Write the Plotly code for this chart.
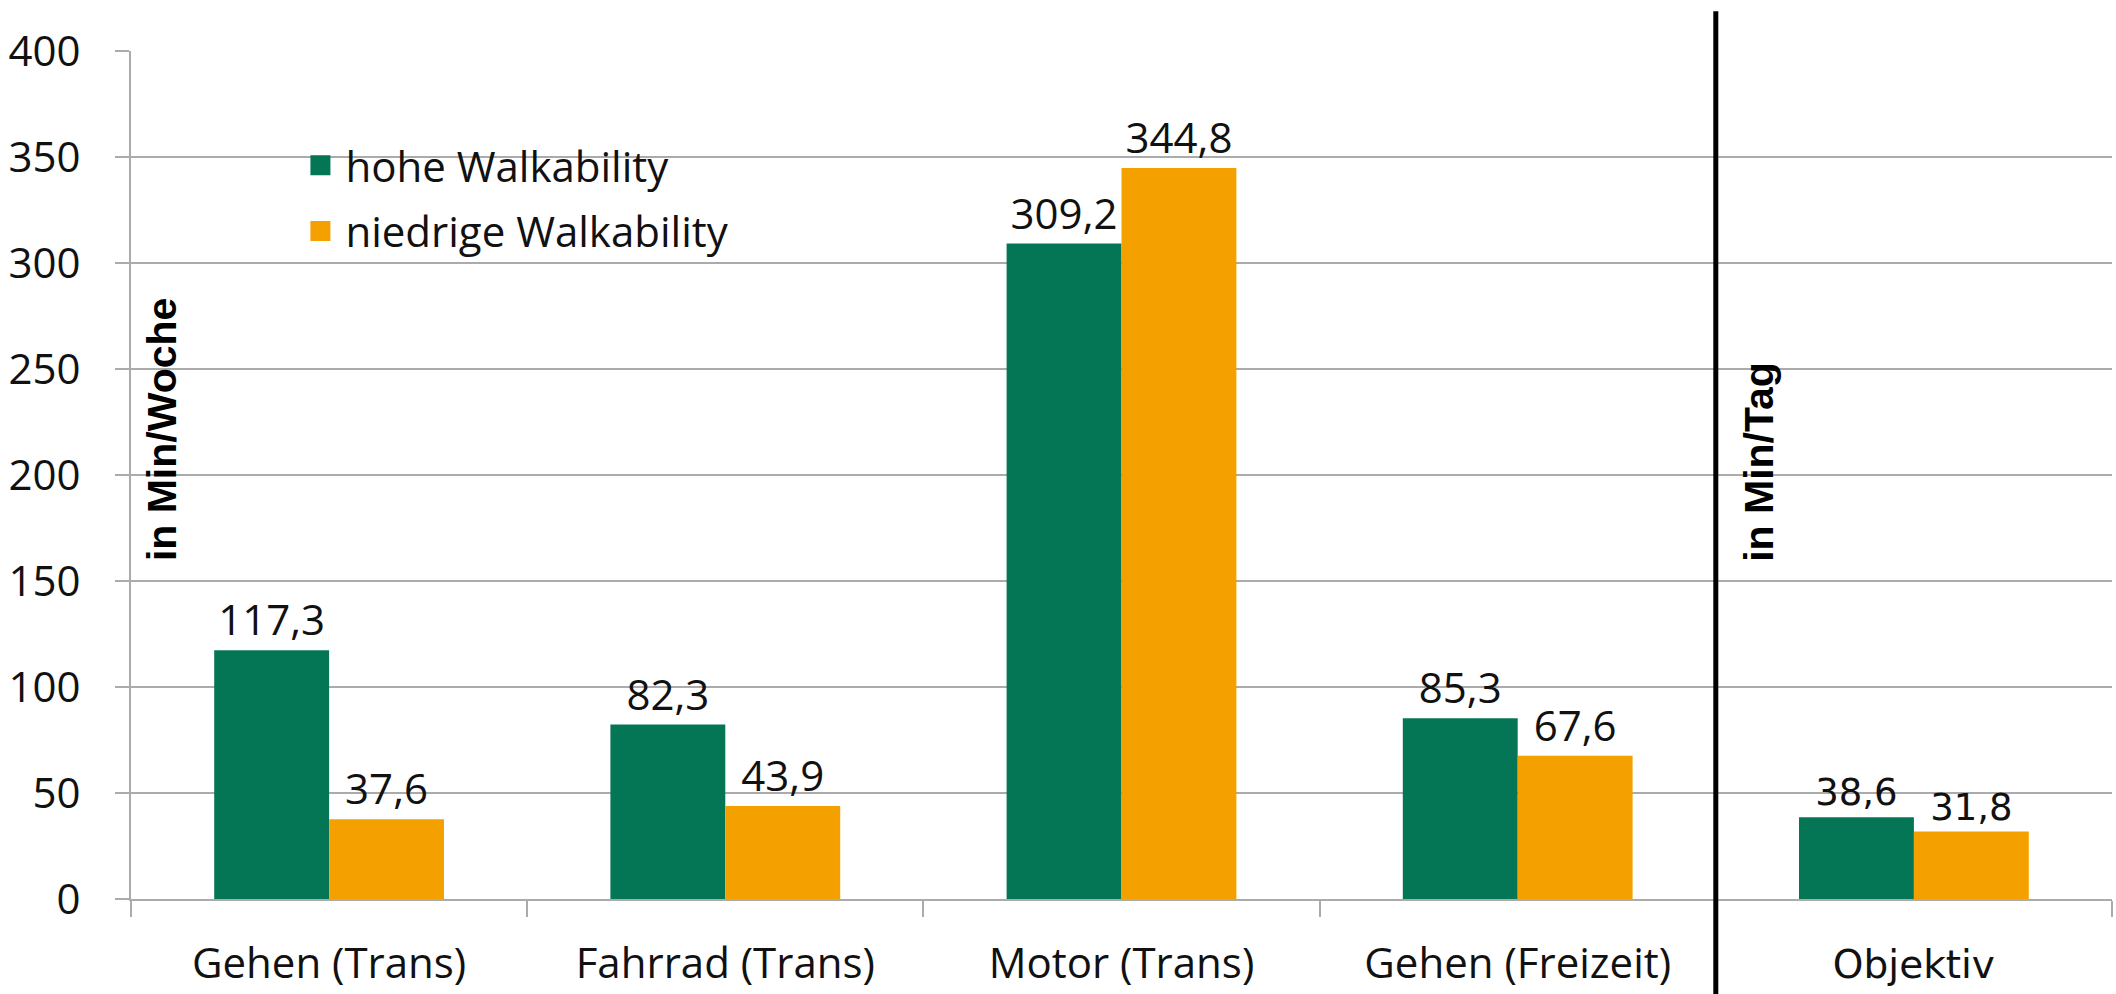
import plotly.graph_objects as go

# Activity categories and mean minutes per group
categories = ["Gehen (Trans)", "Fahrrad (Trans)", "Motor (Trans)", "Gehen (Freizeit)", "Objektiv"]
tick_labels = ["Gehen (Trans)", "Fahrrad (Trans)", "Motor (Trans)", "Gehen (Freizeit)",
               '<span style="font-family:DejaVu Sans;font-size:39px">Objektiv</span>']
series_names = ["hohe Walkability", "niedrige Walkability"]
hohe = [117.3, 82.3, 309.2, 85.3, 38.6]
niedrige = [37.6, 43.9, 344.8, 67.6, 31.8]
y_ticks = [0, 50, 100, 150, 200, 250, 300, 350, 400]

GREEN = "#047656"
ORANGE = "#F4A100"
GRID = "#ABABAB"
BASE_FONT = "Open Sans"
FS = 42

# label fonts: the daily (Objektiv) group uses a wider face
label_fam = [BASE_FONT] * 4 + ["DejaVu Sans"]
label_size = [FS] * 4 + [37]

fig = go.Figure()
for name, vals, col in [(series_names[0], hohe, GREEN), (series_names[1], niedrige, ORANGE)]:
    fig.add_trace(go.Bar(
        x=categories, y=vals, name=name, marker=dict(color=col, line=dict(width=0)),
        texttemplate="%{y:.1f}", textposition="outside", constraintext="none",
        textfont=dict(family=label_fam, size=label_size, color="#111111"),
        cliponaxis=False, showlegend=False,
    ))

# legend entries with larger square swatches
for i, (name, col) in enumerate([(series_names[0], GREEN), (series_names[1], ORANGE)]):
    fig.add_trace(go.Scatter(
        x=[None], y=[None], mode="markers", name=name, legendgroup=f"g{i}",
        marker=dict(symbol="square", size=16, color=col, line=dict(color=col, width=4)),
    ))

fig.update_layout(
    width=2116, height=994,
    margin=dict(l=131, r=4, t=51, b=95),
    paper_bgcolor="white", plot_bgcolor="white",
    separators=",.",
    barmode="group", bargap=0.42, bargroupgap=0,
    font=dict(family=BASE_FONT, size=FS, color="#111111"),
    showlegend=True,
    legend=dict(
        x=0.083, y=0.905, xanchor="left", yanchor="top",
        bgcolor="rgba(0,0,0,0)", font=dict(size=FS, family=BASE_FONT),
        tracegroupgap=8, itemwidth=40,
    ),
    xaxis=dict(
        type="category", tickmode="array", tickvals=categories, ticktext=tick_labels,
        tickson="boundaries", ticks="outside", ticklen=16, tickcolor=GRID, tickwidth=2,
        showline=True, linecolor=GRID, linewidth=2, showgrid=False,
        ticklabelstandoff=27, range=[-0.5, 4.5], automargin=False,
    ),
    yaxis=dict(
        range=[0, 400], tickvals=y_ticks, ticks="outside", ticklen=14, tickcolor=GRID,
        tickwidth=2, showline=True, linecolor=GRID, linewidth=2,
        showgrid=True, gridcolor=GRID, gridwidth=2, zeroline=False,
        ticklabelstandoff=26, automargin=False,
    ),
)

# divider between weekly and daily measures
fig.add_shape(type="line", xref="x", yref="paper", x0=3.5, x1=3.5, y0=-0.12, y1=1.047,
              line=dict(color="black", width=5), layer="above")

unit_font = dict(family="Liberation Sans", size=41, color="black", weight=700)
fig.add_annotation(text="in Min/Woche", xref="paper", yref="paper", x=0.0156, y=0.554,
                   xanchor="center", yanchor="middle",
                   textangle=-90, showarrow=False, font=unit_font)
fig.add_annotation(text="in Min/Tag", xref="paper", yref="paper", x=0.822, y=0.516,
                   xanchor="center", yanchor="middle",
                   textangle=-90, showarrow=False, font=unit_font)

fig.write_html("out.html")
